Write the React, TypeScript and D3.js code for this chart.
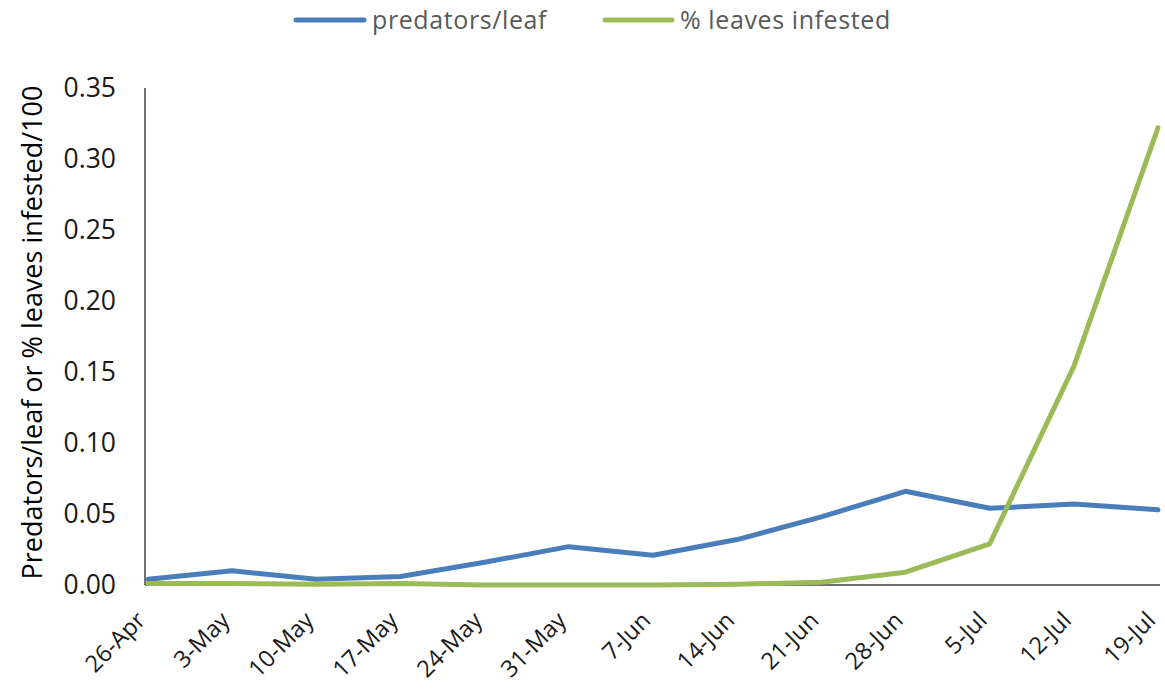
import React from "react";
import * as d3 from "d3";

const categories = ["26-Apr","3-May","10-May","17-May","24-May","31-May","7-Jun","14-Jun","21-Jun","28-Jun","5-Jul","12-Jul","19-Jul"];
const predators = [0.004,0.010,0.004,0.006,0.016,0.027,0.021,0.032,0.048,0.066,0.054,0.057,0.053];
const infested = [0.001,0.001,0.0005,0.001,0,0,0,0.0005,0.002,0.009,0.029,0.154,0.322];
const yTicks = [0,0.05,0.1,0.15,0.2,0.25,0.3,0.35];
const seriesNames = ["predators/leaf","% leaves infested"];
const colors = ["#4A7EBB","#9BBB59"];

const W = 1165, H = 699;
const left = 145, right = 1160, top = 88, bottom = 585;

export default function App() {
  const x = d3.scalePoint<string>().domain(categories).range([148, 1158]);
  const y = d3.scaleLinear().domain([0, 0.35]).range([bottom, top]);
  const line = d3.line<number>().x((_, i) => x(categories[i])!).y(d => y(d));
  const font = "'Open Sans', 'DejaVu Sans', sans-serif";
  return (
    <svg width={W} height={H} style={{ position: "absolute", left: 0, top: 0, background: "#fff" }} fontFamily={font}>
      {/* legend */}
      <g>
        <line x1={296} x2={364} y1={20} y2={20} stroke={colors[0]} strokeWidth={5} strokeLinecap="round" />
        <text x={372} y={29} fontSize={25} letterSpacing={0.6} fill="#595959">{seriesNames[0]}</text>
        <line x1={605} x2={672} y1={20} y2={20} stroke={colors[1]} strokeWidth={5} strokeLinecap="round" />
        <text x={680} y={29} fontSize={25} letterSpacing={0.6} fill="#595959">{seriesNames[1]}</text>
      </g>
      {/* y axis */}
      <line x1={left} x2={left} y1={top} y2={bottom} stroke="#404040" strokeWidth={1.5} />
      {yTicks.map(t => (
        <text key={t} x={116} y={y(t)} dy="0.35em" textAnchor="end" fontSize={26.5} fill="#1a1a1a">{d3.format(".2f")(t)}</text>
      ))}
      <text transform={`translate(42,${(top + bottom) / 2 - 4}) rotate(-90)`} textAnchor="middle" fontSize={27} fill="#000">
        Predators/leaf or % leaves infested/100
      </text>
      {/* x axis */}
      <line x1={left} x2={right} y1={bottom} y2={bottom} stroke="#404040" strokeWidth={1.5} />
      {categories.map(c => (
        <text key={c} transform={`translate(${x(c)! - 7},${bottom + 31}) rotate(-45)`} textAnchor="end" dy="0.35em" fontSize={23.5} fill="#1a1a1a">{c}</text>
      ))}
      {/* lines */}
      <path d={line(predators)!} fill="none" stroke={colors[0]} strokeWidth={5} strokeLinejoin="round" strokeLinecap="round" />
      <path d={line(infested)!} fill="none" stroke={colors[1]} strokeWidth={5} strokeLinejoin="round" strokeLinecap="round" />
    </svg>
  );
}
